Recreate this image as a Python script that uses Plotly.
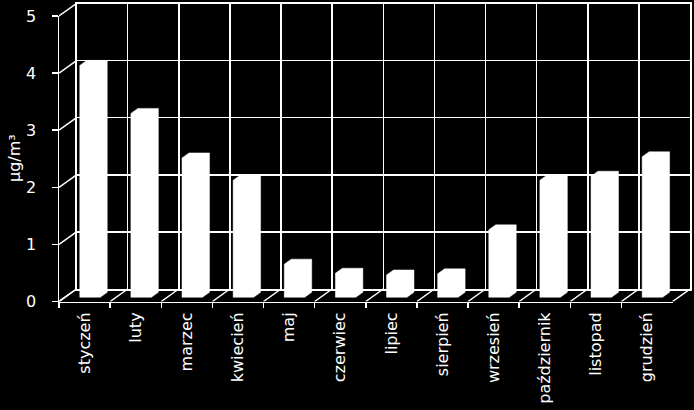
import plotly.graph_objects as go

# ---- data ----
months = ["styczeń", "luty", "marzec", "kwiecień", "maj", "czerwiec",
          "lipiec", "sierpień", "wrzesień", "październik", "listopad", "grudzień"]
values = [4.06, 3.22, 2.44, 2.05, 0.58, 0.42, 0.39, 0.41, 1.18, 2.05, 2.12, 2.46]
y_ticks = [0, 1, 2, 3, 4, 5]
y_title = "µg/m³"

# ---- layout geometry (pixels) ----
W, H = 694, 410
FX0, FX1 = 59, 672.5      # front x axis ends
FY0, FY1 = 301.5, 16      # front y axis: value 0 and value YMAX
OX, OY = 17.5, 12.5       # depth offset of the back wall
YMAX = y_ticks[-1]
n = len(months)
cat_px = (FX1 - FX0) / n
val_px = (FY0 - FY1) / YMAX
DX = OX / cat_px
DY = OY / val_px
D0, D1 = 0.34, 0.74       # bar front/back depth
BX0, BX1 = -0.21, 0.19    # bar extent around category index

FONT = "DejaVu Sans"
LINE = "white"
LW = 1.5
CLEAR = "rgba(0,0,0,0)"


def px_x(p):
    return p / W


def px_y(p):
    return 1 - p / H


fig = go.Figure()

# invisible traces that set up front axes and back wall
fig.add_trace(go.Scatter(x=months, y=values, mode="markers",
                         marker=dict(opacity=0), hoverinfo="skip",
                         xaxis="x", yaxis="y", showlegend=False))
fig.add_trace(go.Scatter(x=months, y=values, mode="markers",
                         marker=dict(opacity=0), hoverinfo="skip",
                         xaxis="x2", yaxis="y2", showlegend=False))

# diagonal connectors (y ticks to back wall, floor boundaries)
dx_, dy_ = [], []
for t in y_ticks:
    dx_ += [-0.5, -0.5 + DX, None]
    dy_ += [t, t + DY, None]
for k in range(n + 1):
    b = -0.5 + k
    dx_ += [b, b + DX, None]
    dy_ += [0, DY, None]
fig.add_trace(go.Scatter(x=dx_, y=dy_, mode="lines",
                         line=dict(color=LINE, width=LW),
                         hoverinfo="skip", xaxis="x3", yaxis="y3",
                         showlegend=False))

# bars as white boxes (silhouette)
for i, v in enumerate(values):
    x0, x1 = i + BX0, i + BX1
    px = [x0 + D0 * DX, x0 + D0 * DX, x0 + D1 * DX, x1 + D1 * DX,
          x1 + D1 * DX, x1 + D0 * DX, x0 + D0 * DX]
    py = [D0 * DY, v + D0 * DY, v + D1 * DY, v + D1 * DY,
          D1 * DY, D0 * DY, D0 * DY]
    fig.add_trace(go.Scatter(x=px, y=py, mode="lines", fill="toself",
                             fillcolor="white", line=dict(color="white", width=0.5),
                             hovertext=f"{months[i]}: {v}", hoverinfo="text",
                             xaxis="x3", yaxis="y3", showlegend=False))

tickfont = dict(family=FONT, size=16, color="white")

fig.update_layout(
    width=W, height=H, autosize=False,
    margin=dict(l=0, r=0, t=0, b=0, pad=0, autoexpand=False),
    paper_bgcolor="black", plot_bgcolor=CLEAR,
    font=dict(family=FONT, color="white"),
    xaxis=dict(domain=[px_x(FX0), px_x(FX1)], anchor="y", type="category",
               categoryorder="array", categoryarray=months,
               range=[-0.5, n - 0.5], tickson="boundaries",
               ticks="outside", ticklen=5, tickwidth=LW, tickcolor=LINE,
               showline=True, linecolor=LINE, linewidth=LW,
               showgrid=False, zeroline=False, tickangle=-90,
               tickfont=tickfont, ticklabelstandoff=3, fixedrange=True,
               automargin=False),
    yaxis=dict(domain=[px_y(FY0), px_y(FY1)], anchor="x",
               range=[0, YMAX], tickvals=y_ticks,
               ticks="outside", ticklen=6, tickwidth=LW, tickcolor=LINE,
               showline=True, linecolor=LINE, linewidth=LW,
               showgrid=False, zeroline=False,
               tickfont=tickfont, ticklabelstandoff=12, fixedrange=True,
               automargin=False),
    xaxis2=dict(domain=[px_x(FX0 + OX), px_x(FX1 + OX)], anchor="y2",
                type="category", categoryorder="array", categoryarray=months,
                range=[-0.5, n - 0.5], tickson="boundaries", ticks="",
                showticklabels=False, showgrid=True, gridcolor=LINE,
                gridwidth=LW, showline=True, mirror=True, linecolor=LINE,
                linewidth=LW, zeroline=False, fixedrange=True, automargin=False),
    yaxis2=dict(domain=[px_y(FY0 - OY), px_y(FY1 - OY)], anchor="x2",
                range=[0, YMAX], tickvals=y_ticks, ticks="",
                showticklabels=False, showgrid=True, gridcolor=LINE,
                gridwidth=LW, showline=True, mirror=True, linecolor=LINE,
                linewidth=LW, zeroline=False, fixedrange=True, automargin=False),
    xaxis3=dict(domain=[px_x(FX0), px_x(FX1 + OX)], anchor="y3",
                range=[-0.5, n - 0.5 + DX], visible=False, fixedrange=True),
    yaxis3=dict(domain=[px_y(FY0), px_y(FY1 - OY)], anchor="x3",
                range=[0, YMAX + DY], visible=False, fixedrange=True),
    annotations=[dict(text=y_title, x=px_x(14), y=px_y(158),
                      xref="paper", yref="paper", textangle=-90,
                      showarrow=False, xanchor="center", yanchor="middle",
                      font=dict(family=FONT, size=16, color="white"))],
    showlegend=False,
)

fig.write_html(
    "out.html",
    config={"displayModeBar": False, "staticPlot": True},
    post_script=(
        "var s=document.documentElement.style,b=document.body.style;"
        "s.margin='0';s.padding='0';s.overflow='hidden';"
        "s.height='%dpx';s.background='black';"
        "b.margin='0';b.padding='0';b.overflow='hidden';"
        "b.height='%dpx';b.width='%dpx';b.background='black';" % (H, H, W)
    ),
)
